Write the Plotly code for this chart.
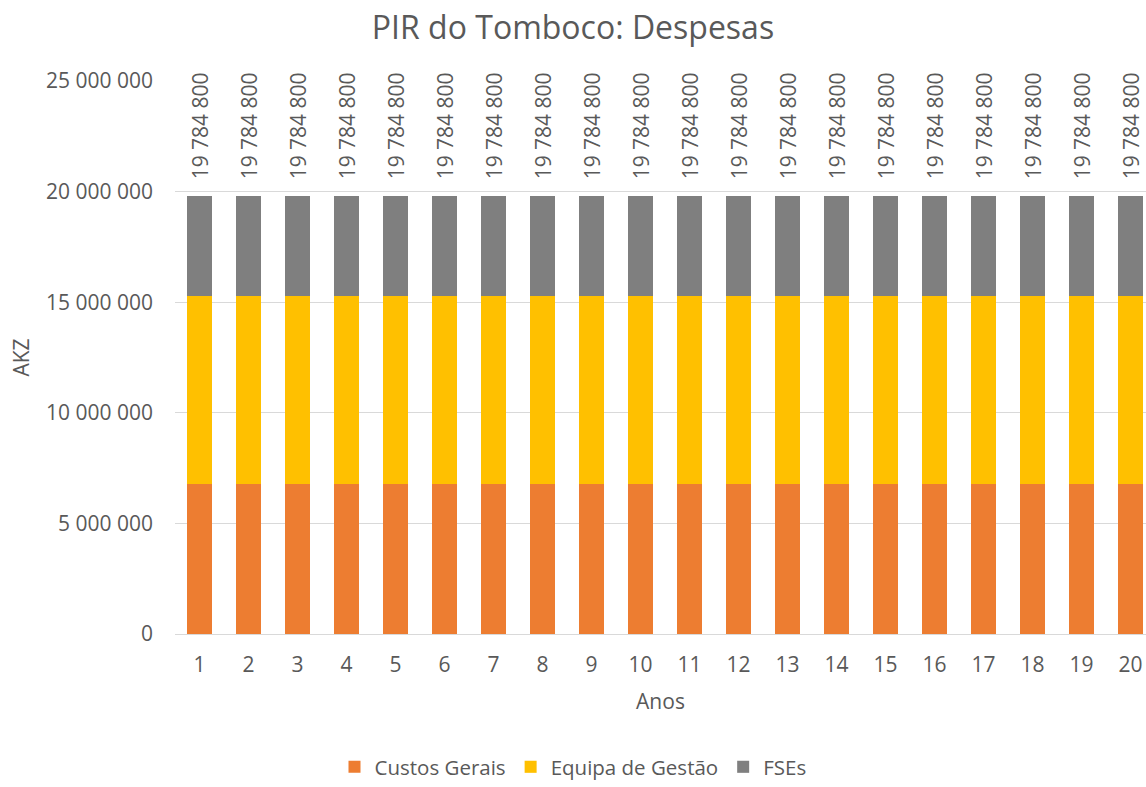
import plotly.graph_objects as go

# Yearly expense breakdown (AKZ)
anos = list(range(1, 21))
custos_gerais = [6_800_000] * 20
equipa_gestao = [8_485_000] * 20
fses = [4_499_800] * 20
totais = [a + b + c for a, b, c in zip(custos_gerais, equipa_gestao, fses)]

FONT = "Open Sans"
TXT = "#595959"
GRID = "#d9d9d9"

fig = go.Figure()
fig.add_trace(go.Bar(x=anos, y=custos_gerais, name="Custos Gerais",
                     marker=dict(color="#ED7D31", line=dict(width=0)), width=0.5))
fig.add_trace(go.Bar(x=anos, y=equipa_gestao, name="Equipa de Gestão",
                     marker=dict(color="#FFC000", line=dict(width=0)), width=0.5))
fig.add_trace(go.Bar(x=anos, y=fses, name="FSEs",
                     marker=dict(color="#7F7F7F", line=dict(width=0)), width=0.5))

# Total labels above each stacked bar, rotated vertically
for x, t in zip(anos, totais):
    fig.add_annotation(x=x, y=t, xref="x", yref="y",
                       text=f"{t:,.0f}".replace(",", " "),
                       textangle=-90, showarrow=False,
                       xanchor="center", yanchor="bottom", yshift=15,
                       font=dict(family=FONT, size=21, color=TXT))

fig.update_layout(
    width=1146, height=787, autosize=False,
    barmode="stack",
    separators=", ",
    paper_bgcolor="white", plot_bgcolor="white",
    margin=dict(l=175, r=0, t=81, b=153, pad=0),
    font=dict(family=FONT, color=TXT, size=21),
    title=dict(text="PIR do Tomboco: Despesas", x=0.5, xref="container", xanchor="center",
               y=1 - 28 / 787, yref="container", yanchor="middle",
               font=dict(family=FONT, size=32, color=TXT)),
    legend=dict(orientation="h", x=0.5, xref="container", xanchor="center",
                y=-0.018, yref="container", yanchor="bottom",
                traceorder="normal", font=dict(family=FONT, size=20.5, color=TXT),
                itemsizing="constant"),
    showlegend=True,
)

fig.update_xaxes(
    range=[0.5, 0.5 + (1146 - 175) / 49],
    tickmode="array", tickvals=anos, ticktext=[str(a) for a in anos],
    showgrid=False, showline=False, zeroline=False, ticks="",
    ticklabelstandoff=16,
    tickfont=dict(family=FONT, size=21, color=TXT),
    title=dict(text="Anos", standoff=17, font=dict(family=FONT, size=21, color=TXT)),
)

fig.update_yaxes(
    range=[0, 25_000_000], dtick=5_000_000, tickformat=",.0f",
    showgrid=True, gridcolor=GRID, gridwidth=1,
    zeroline=True, zerolinecolor=GRID, zerolinewidth=1,
    showline=False, ticks="",
    ticklabelstandoff=21,
    tickfont=dict(family=FONT, size=21, color=TXT),
    title=dict(text="AKZ", standoff=10, font=dict(family=FONT, size=21, color=TXT)),
)

fig.write_html("out.html")
